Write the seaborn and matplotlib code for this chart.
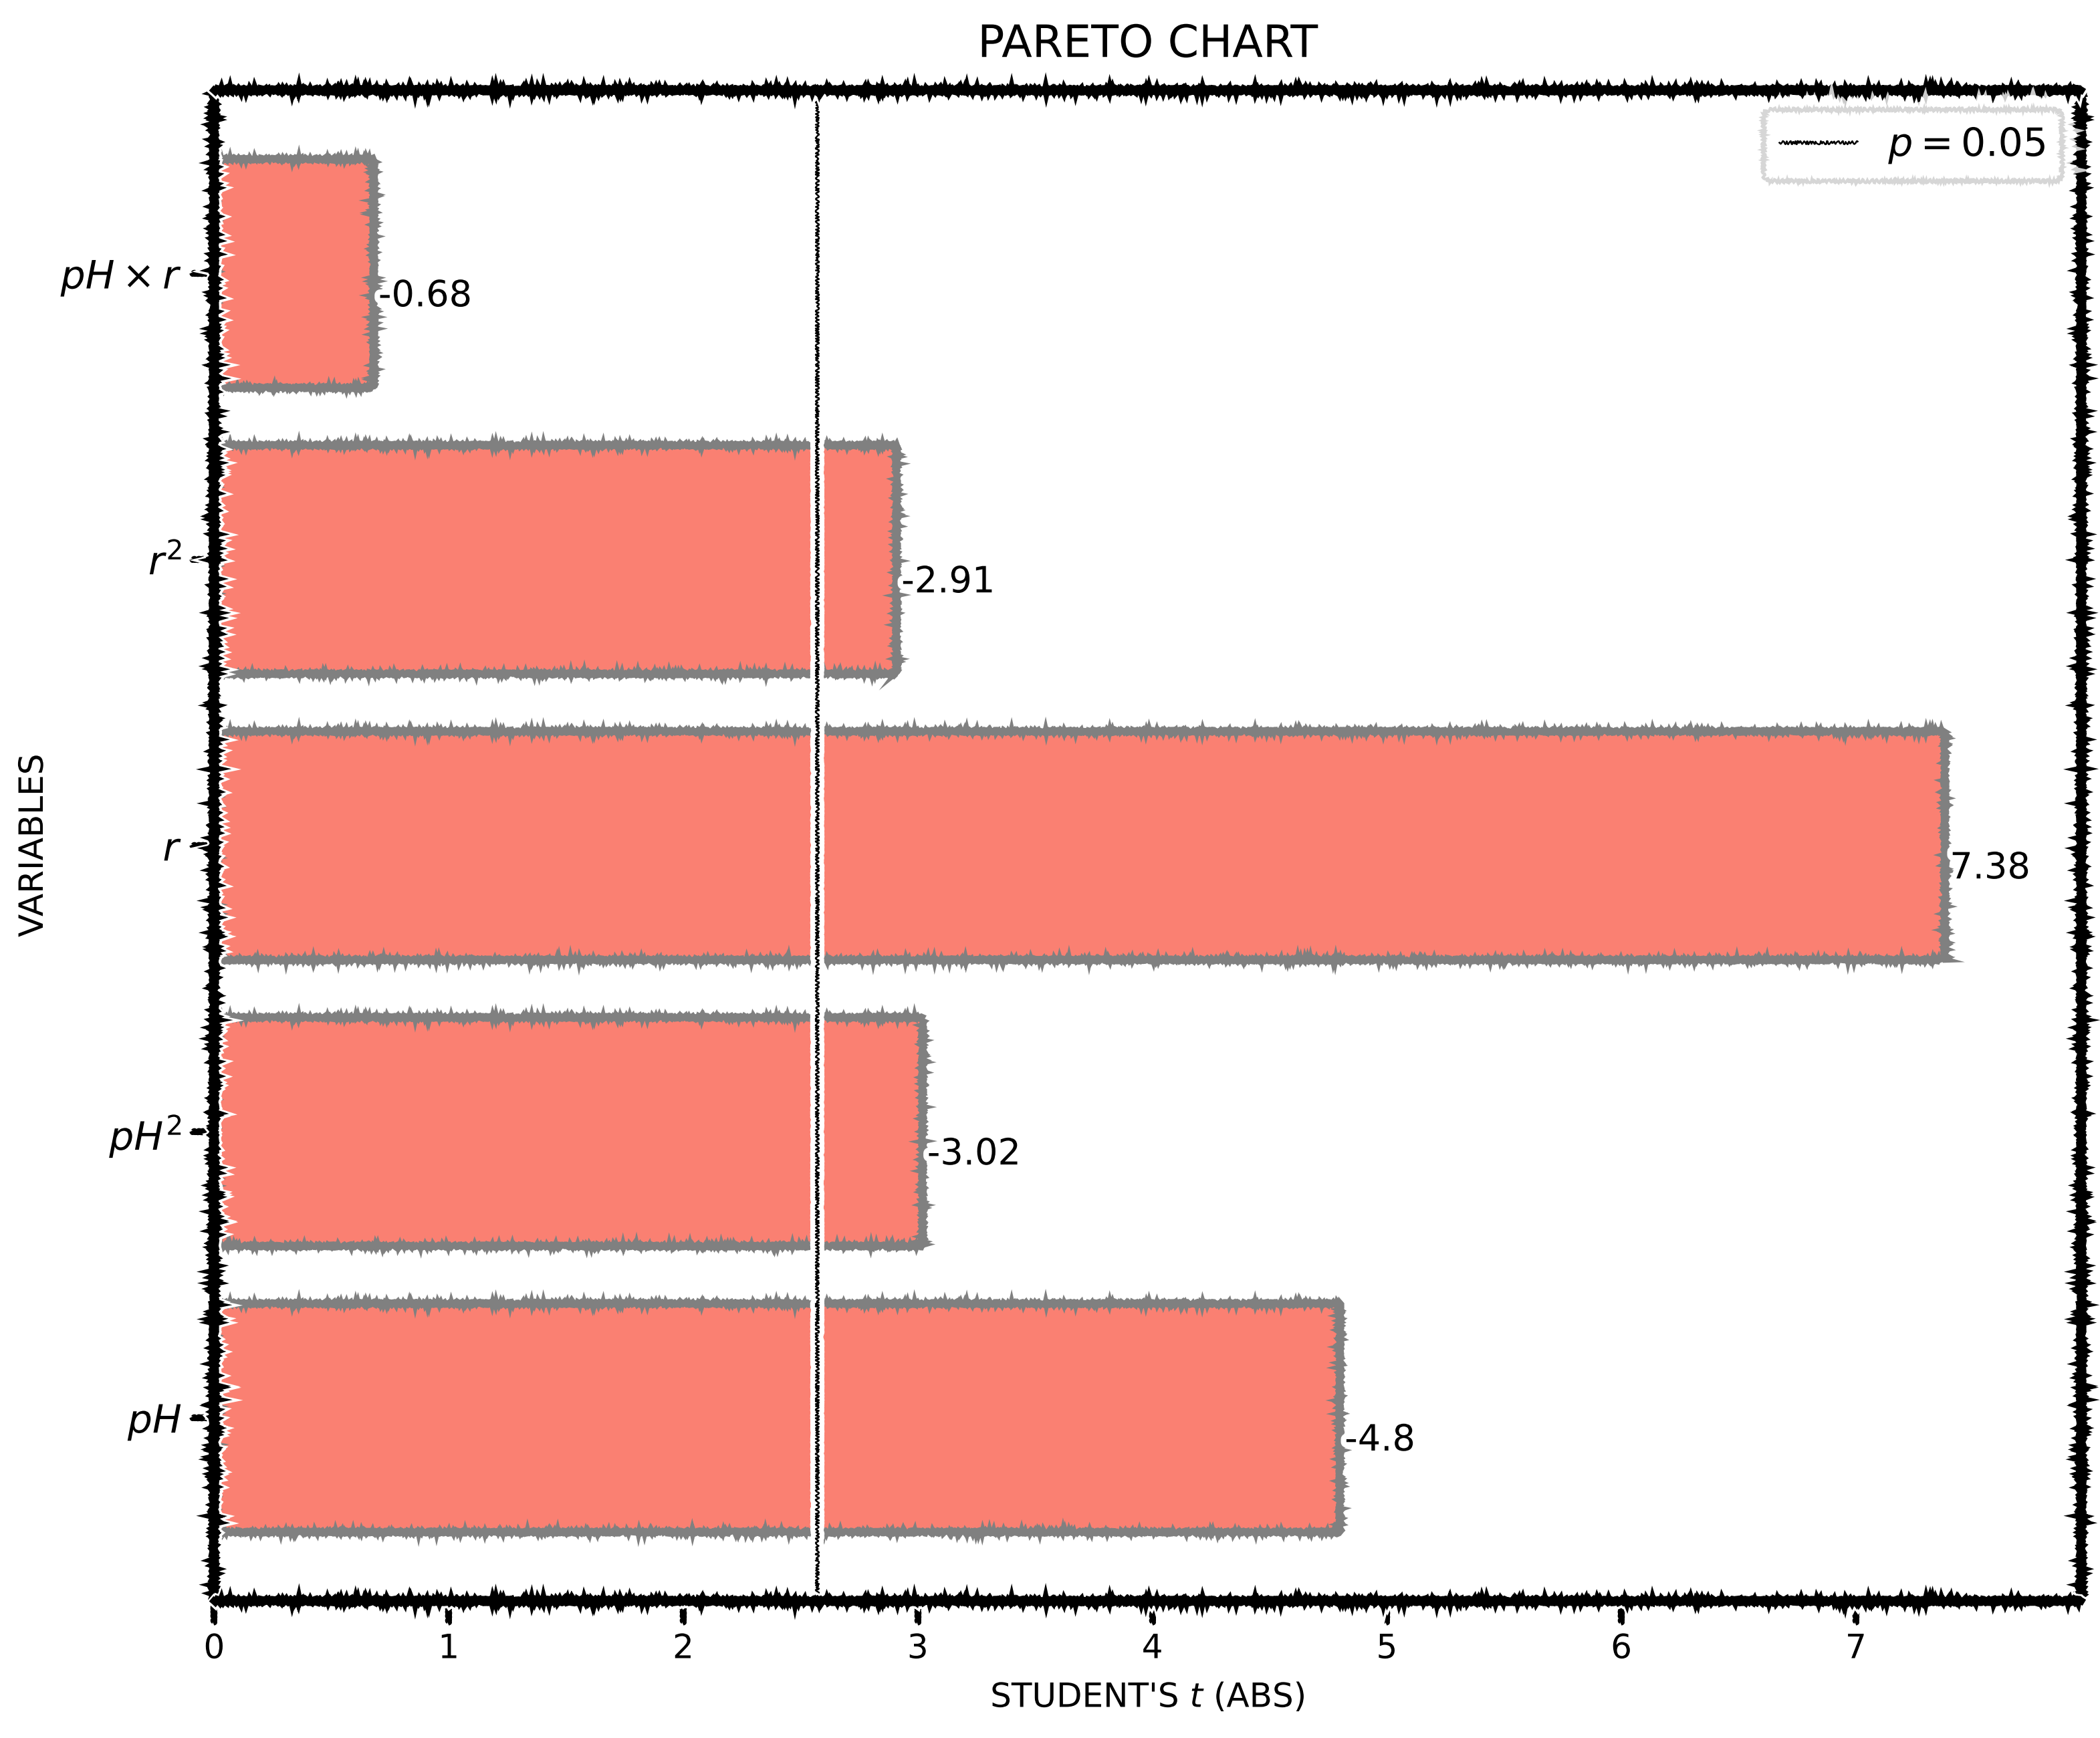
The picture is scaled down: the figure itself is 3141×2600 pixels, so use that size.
import matplotlib
matplotlib.use("Agg")
import matplotlib.pyplot as plt
import seaborn as sb

# t statistics of the regression terms (top to bottom as drawn)
variables = [r"$pH \times r$", r"$r^2$", r"$r$", r"$pH^2$", r"$pH$"]
t_values = [-0.68, -2.91, 7.38, -3.02, -4.8]
t_abs = [abs(t) for t in t_values]
t_crit = 2.571  # p = 0.05

plt.xkcd(scale=2.5, length=6, randomness=3)
plt.rcParams['font.family'] = ['DejaVu Sans']
plt.rcParams['axes.linewidth'] = 2.5
plt.rcParams['xtick.major.width'] = 2
plt.rcParams['ytick.major.width'] = 2

fig, ax = plt.subplots(figsize=(3141 / 300, 2600 / 300), dpi=300)
sb.barplot(x=t_abs, y=variables, orient="h", color="salmon", saturation=1,
           edgecolor="gray", linewidth=2, width=0.8, ax=ax)
ax.axvline(t_crit, color="black", linewidth=0.6, label=r"$p = 0.05$")

for i, (a, t) in enumerate(zip(t_abs, t_values)):
    ax.text(a + 0.02, i + 0.08, f"{t}", va="center", ha="left", fontsize=13)

ax.set_xlim(0, 7.96)
ax.set_ylim(len(variables) - 0.36, -0.64)
ax.set_title("PARETO CHART", fontsize=16, pad=12)
ax.set_xlabel("STUDENT'S $t$ (ABS)", fontsize=12, labelpad=6)
ax.set_ylabel("VARIABLES", fontsize=12)
ax.tick_params(axis="y", labelsize=14)
ax.tick_params(axis="x", labelsize=12)
ax.legend(loc="upper right", fontsize=14)

plt.subplots_adjust(left=0.102, right=0.991, top=0.948, bottom=0.079)
plt.savefig("out.png", dpi=300)
